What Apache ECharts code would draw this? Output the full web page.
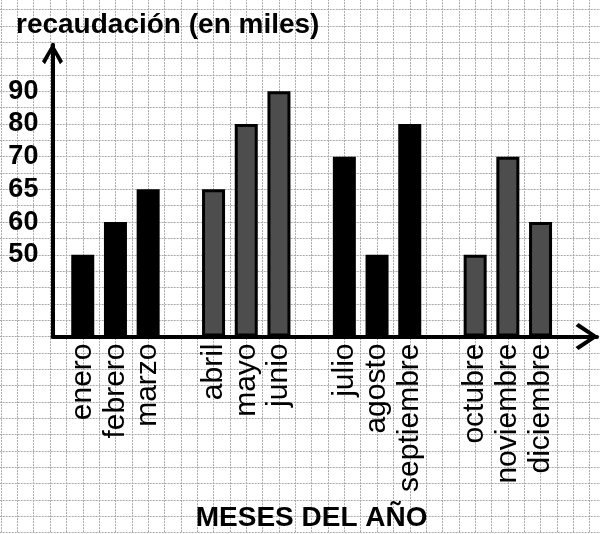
<!DOCTYPE html>
<html>
<head>
<meta charset="utf-8">
<script src="https://cdn.jsdelivr.net/npm/echarts@6/dist/echarts.min.js"></script>
<style>
  html, body { margin: 0; padding: 0; background: #fff; }
  #chart { width: 600px; height: 534px; }
</style>
</head>
<body>
<div id="chart"></div>
<script>
const months = ['enero', 'febrero', 'marzo', 'abril', 'mayo', 'junio',
  'julio', 'agosto', 'septiembre', 'octubre', 'noviembre', 'diciembre']
const values = [50, 60, 65, 65, 80, 90, 70, 50, 80, 50, 70, 60]
const tickLabels = [50, 60, 65, 70, 80, 90]

// layout of the hand drawn scale: ticks are 2 squares apart, first one 5 squares up
const firstLevel = 5
const levelStep = 2
const groupColors = ['#000000', '#4d4d4d']
const font = 'Liberation Sans, Arial, sans-serif'
const cell = 16.35

function level(v) {
  return firstLevel + levelStep * tickLabels.indexOf(v)
}

// one empty slot after every quarter
let categories = []
let barData = []
months.forEach((m, i) => {
  categories.push(m)
  barData.push({
    value: level(values[i]),
    itemStyle: { color: groupColors[Math.floor(i / 3) % 2] }
  })
  if (i % 3 === 2 && i < months.length - 1) {
    categories.push('')
    barData.push('-')
  }
})

const xArrow = 'path://M13.5,0 L27,20 L24,23 L13.5,7 L3,23 L0,20 Z'
const yArrow = 'path://M10.5,0 L21,18 L18,21 L10.5,7 L3,21 L0,18 Z'

let myChart = echarts.init(document.getElementById('chart'))
myChart.setOption({
  animation: false,
  title: {
    text: 'recaudación (en miles)',
    left: 11,
    top: 6,
    textStyle: { color: '#000', fontSize: 28, fontWeight: 'bold', fontFamily: font }
  },
  grid: [
    { left: 66.4, width: 15 * 32.7, top: 91.25, bottom: 197.5, outerBoundsMode: 'none' },
    { left: 52.5, right: 3, top: 44.7, bottom: 197.5, outerBoundsMode: 'none' },
    { left: 1 - cell, width: 38 * cell, top: 336.5 - 21 * cell, height: 33 * cell, outerBoundsMode: 'none' }
  ],
  xAxis: [{
    gridIndex: 0,
    type: 'category',
    data: categories,
    axisLine: { show: false },
    axisTick: { show: false },
    axisLabel: {
      interval: 0,
      rotate: 90,
      margin: 7,
      color: '#000',
      fontSize: 30,
      fontFamily: font
    },
    name: 'MESES DEL AÑO',
    nameLocation: 'middle',
    nameGap: 168,
    nameTextStyle: { color: '#000', fontSize: 28, fontWeight: 'bold', fontFamily: font }
  }, {
    gridIndex: 1,
    type: 'value',
    min: 0,
    max: 1,
    z: 5,
    axisLine: {
      show: true,
      symbol: ['none', xArrow],
      symbolSize: [27, 24],
      symbolOffset: [0, -10],
      lineStyle: { color: '#000', width: 4 }
    },
    axisTick: { show: false },
    axisLabel: { show: false },
    splitLine: { show: false }
  }, {
    gridIndex: 2,
    type: 'value',
    min: 0,
    max: 38,
    interval: 1,
    z: 0,
    axisLine: { show: false },
    axisTick: { show: false },
    axisLabel: { show: false },
    splitLine: { show: true, lineStyle: { color: '#aaaaaa', width: 1, type: [2, 1] } }
  }],
  yAxis: [{
    gridIndex: 0,
    type: 'value',
    min: 0,
    max: 15,
    interval: 1,
    axisLine: { show: false },
    axisTick: { show: false },
    splitLine: { show: false },
    axisLabel: {
      margin: 28,
      color: '#000',
      fontSize: 27,
      fontWeight: 'bold',
      fontFamily: font,
      formatter: function (val) {
        let k = (val - firstLevel) / levelStep
        return Number.isInteger(k) && k >= 0 && k < tickLabels.length ? String(tickLabels[k]) : ''
      }
    }
  }, {
    gridIndex: 1,
    type: 'value',
    min: 0,
    max: 1,
    z: 5,
    axisLine: {
      show: true,
      symbol: ['none', yArrow],
      symbolSize: [21, 22],
      symbolOffset: [0, -9],
      lineStyle: { color: '#000', width: 4 }
    },
    axisTick: { show: false },
    axisLabel: { show: false },
    splitLine: { show: false }
  }, {
    gridIndex: 2,
    type: 'value',
    min: 0,
    max: 33,
    interval: 1,
    z: 0,
    axisLine: { show: false },
    axisTick: { show: false },
    axisLabel: { show: false },
    splitLine: { show: true, lineStyle: { color: '#aaaaaa', width: 1, type: [2, 1] } }
  }],
  series: [{
    type: 'bar',
    xAxisIndex: 0,
    yAxisIndex: 0,
    barWidth: 23,
    z: 3,
    itemStyle: { borderColor: '#000', borderWidth: 3 },
    data: barData
  }]
})
</script>
</body>
</html>
